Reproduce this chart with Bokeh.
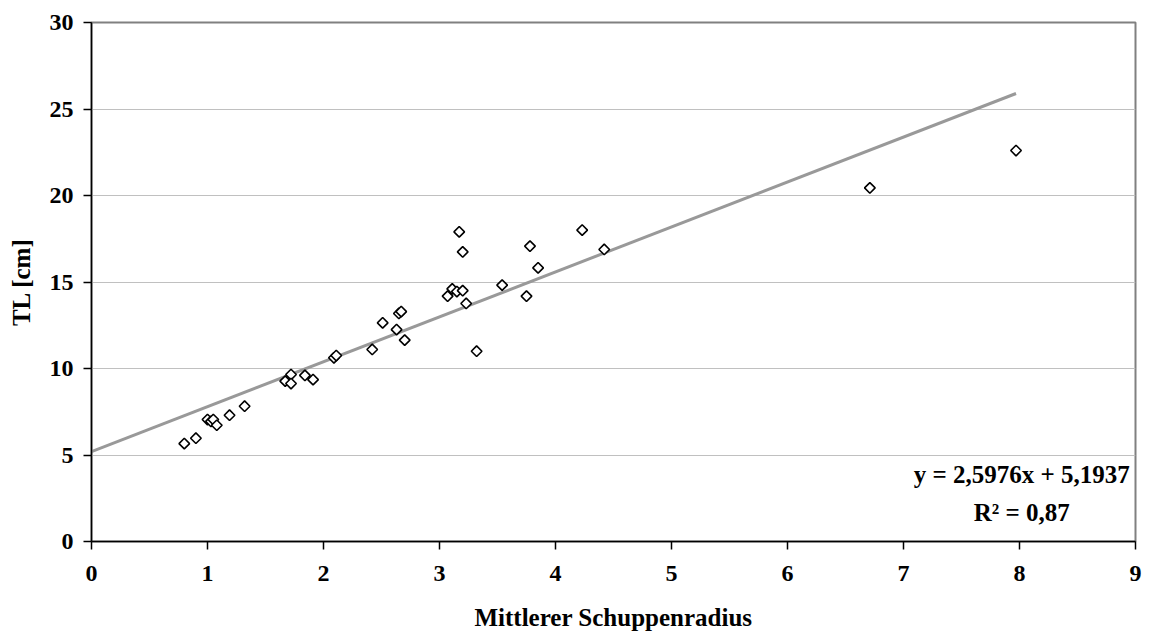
import numpy as np
from bokeh.plotting import figure
from bokeh.models import Range1d, FixedTicker, Label
from bokeh.embed import file_html
from bokeh.resources import INLINE

# Data
schuppenradius = [0.80, 0.90, 1.00, 1.03, 1.05, 1.08, 1.19, 1.32, 1.67, 1.72, 1.72,
                  1.84, 1.91, 2.09, 2.11, 2.42, 2.51, 2.63, 2.65, 2.67, 2.70, 3.07,
                  3.11, 3.15, 3.20, 3.23, 3.17, 3.20, 3.32, 3.54, 3.75, 3.78, 3.85,
                  4.23, 4.42, 6.71, 7.97]
tl_cm = [5.66, 5.97, 7.05, 6.94, 7.05, 6.72, 7.30, 7.82, 9.27, 9.65, 9.13,
         9.60, 9.36, 10.62, 10.75, 11.10, 12.64, 12.25, 13.18, 13.29, 11.64, 14.18,
         14.60, 14.45, 14.50, 13.76, 17.90, 16.74, 11.00, 14.82, 14.18, 17.07, 15.82,
         18.00, 16.88, 20.44, 22.60]
slope = 2.5976
intercept = 5.1937
r_squared = 0.87
x_ticks = [0, 1, 2, 3, 4, 5, 6, 7, 8, 9]
y_ticks = [0, 5, 10, 15, 20, 25, 30]

FONT = "Liberation Serif"

p = figure(width=1151, height=633, output_backend="svg", toolbar_location=None,
           x_range=Range1d(0, 9), y_range=Range1d(0, 30))
p.min_border_left = 91
p.min_border_right = 16
p.min_border_top = 22
p.min_border_bottom = 91
p.background_fill_color = "white"
p.border_fill_color = "white"
p.outline_line_color = "#808080"
p.outline_line_width = 2

# grid
p.xgrid.visible = False
p.ygrid.grid_line_color = "#c0c0c0"
p.ygrid.grid_line_width = 1
p.ygrid.ticker = FixedTicker(ticks=y_ticks)

for ax in (p.xaxis[0], p.yaxis[0]):
    ax.axis_line_color = "black"
    ax.axis_line_width = 1.5
    ax.major_tick_line_color = "black"
    ax.major_tick_line_width = 1.5
    ax.major_tick_out = 8
    ax.major_tick_in = 0
    ax.minor_tick_line_color = None
    ax.major_label_text_font = FONT
    ax.major_label_text_font_style = "bold"
    ax.major_label_text_font_size = "24px"
    ax.major_label_text_color = "black"
    ax.axis_label_text_font = FONT
    ax.axis_label_text_font_style = "bold"
    ax.axis_label_text_font_size = "25px"
    ax.axis_label_text_color = "black"

p.xaxis.ticker = FixedTicker(ticks=x_ticks)
p.yaxis.ticker = FixedTicker(ticks=y_ticks)
p.xaxis.axis_label = "Mittlerer Schuppenradius"
p.yaxis.axis_label = "TL [cm]"
p.xaxis.major_label_standoff = 16
p.xaxis.axis_label_standoff = 20
p.yaxis.major_label_standoff = 10
p.yaxis.axis_label_standoff = 12

# trend line
xs_line = np.array([0.0, max(schuppenradius)])
ys_line = slope * xs_line + intercept
p.line(xs_line, ys_line, line_color="#999999", line_width=3)

# points
p.scatter(schuppenradius, tl_cm, marker="square", angle=np.pi / 4, size=7.5,
          fill_color="white", line_color="black", line_width=1.6)

eq_text = "y = {:.4f}x + {:.4f}".format(slope, intercept).replace(".", ",")
r_text = "R² = {:.2f}".format(r_squared).replace(".", ",")
for txt, yy in ((eq_text, 3.87), (r_text, 1.68)):
    p.add_layout(Label(x=8.02, y=yy, text=txt, text_align="center",
                       text_baseline="middle", text_font=FONT,
                       text_font_style="bold", text_font_size="25px",
                       text_color="black"))

open("out.html", "w").write(file_html(p, INLINE))
